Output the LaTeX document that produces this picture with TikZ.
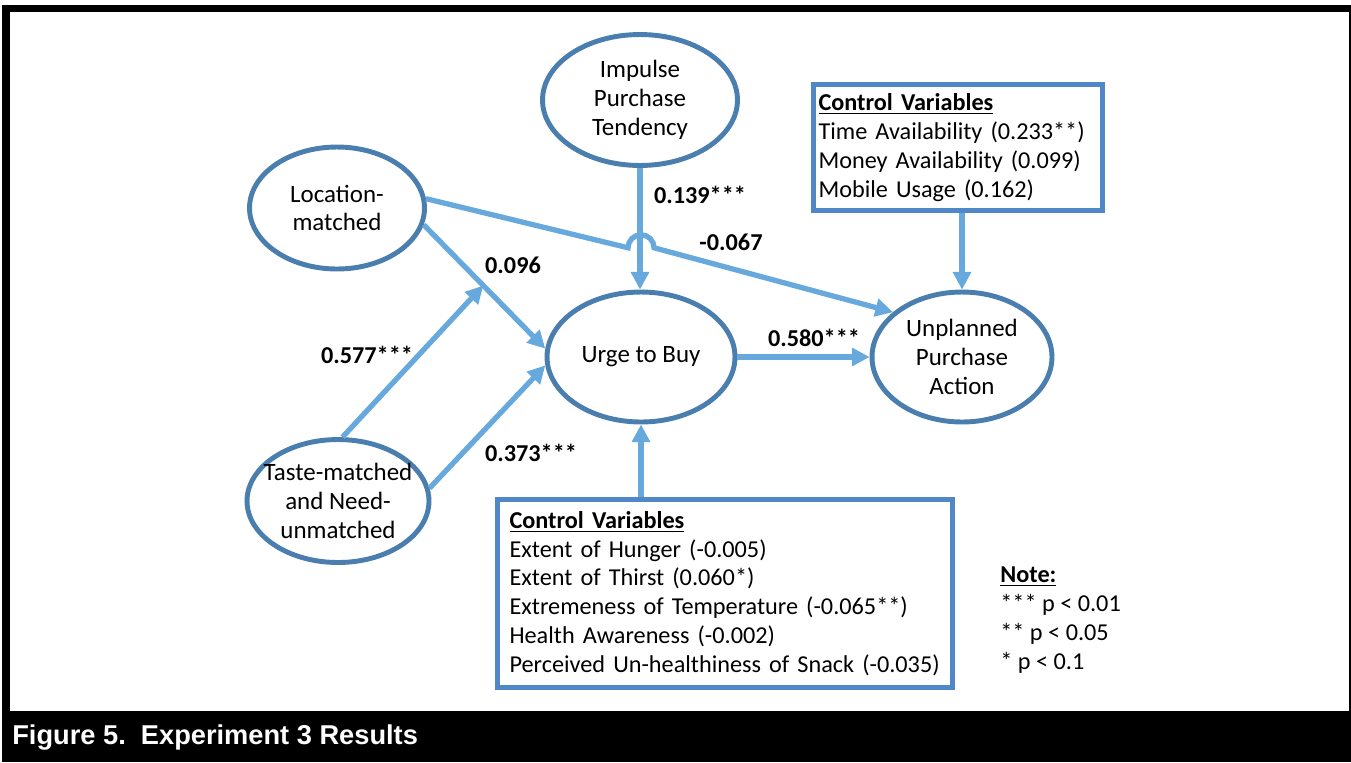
\documentclass[tikz,border=0pt]{standalone}
\usepackage{fontspec}
\setmainfont{Carlito}
\newfontfamily\capfont{Liberation Sans}
\usetikzlibrary{arrows.meta,shapes.geometric,calc}

\definecolor{ringblue}{RGB}{74,126,174}
\definecolor{arrowblue}{RGB}{103,168,221}
\definecolor{boxblue}{RGB}{79,135,199}

\tikzset{
  var/.style={draw=ringblue, line width=2.8pt, ellipse, inner sep=0pt},
  vtxt/.style={align=center, font=\fontsize{14.2}{16.4}\selectfont},
  ctrl/.style={draw=boxblue, line width=2.8pt, rectangle, align=left, inner xsep=6.8pt, font=\fontsize{13.8}{16.4}\selectfont},
  link/.style={draw=arrowblue, line width=3pt, -{Triangle[length=10pt,width=10pt]}},
  coef/.style={font=\fontsize{13.8}{16}\selectfont\bfseries},
}

\begin{document}
\begin{tikzpicture}[x=0.02cm,y=-0.02cm]
\useasboundingbox (0,0) rectangle (1351,762);

% frame and caption bar
\fill[white] (0,0) rectangle (1351,762);
\fill[black] (2,5) rectangle (1351,762);
\fill[white] (10,12) rectangle (1349,711);
\node[anchor=west, inner sep=0pt, text=white, font=\capfont\bfseries\fontsize{15.5}{18}\selectfont] (cap) at (12,737) {Figure 5.\ \ Experiment 3 Results};

% constructs
\node[var, minimum width=3.9cm, minimum height=2.62cm, label={[vtxt]center:Impulse\\Purchase\\Tendency}] (imp) at (640,100) {};
\node[var, minimum width=3.5cm, minimum height=2.44cm, label={[vtxt]center:Location-\\matched}] (loc) at (337,208) {};
\node[var, minimum width=3.64cm, minimum height=2.46cm, label={[vtxt]center:Taste-matched\\and Need-\\unmatched}] (taste) at (338,501) {};
\node[var, minimum width=3.76cm, minimum height=2.6cm, label={[vtxt]center:Urge to Buy}] (urge) at (641,357) {};
\node[var, minimum width=3.6cm, minimum height=2.6cm, label={[vtxt]center:Unplanned\\Purchase\\Action}] (unpl) at (962,357) {};

% control variable boxes
\node[ctrl, text width=5.58cm, inner xsep=3pt, minimum height=2.52cm] (ctrlA) at (958,147.5) {\textbf{\underline{Control Variables}}\\Time Availability (0.233**)\\Money Availability (0.099)\\Mobile Usage (0.162)};
\node[ctrl, text width=8.62cm, minimum height=3.76cm] (ctrlB) at (725,593.5) {\textbf{\underline{Control Variables}}\\Extent of Hunger (-0.005)\\Extent of Thirst (0.060*)\\Extremeness of Temperature (-0.065**)\\Health Awareness (-0.002)\\Perceived Un-healthiness of Snack (-0.035)};

% note
\node[anchor=west, align=left, inner sep=0pt, font=\fontsize{13.8}{16.4}\selectfont] (note) at (1000,620) {\textbf{\underline{Note:}}\\{}*** p < 0.01\\{}** p < 0.05\\{}* p < 0.1};

% paths
\draw[link] (imp.south) -- (imp.south |- urge.north);
\coordinate (hx) at (intersection of loc.6--unpl.147 and imp.south--urge.north);
\draw[link] (loc.6) -- ($(hx)!0.26cm!(loc.6)$) arc[start angle=180, end angle=360, radius=13] -- (unpl.147);
\draw[link] (loc.-11) -- (urge.175);
\coordinate (join) at ($(loc.-11)!0.49!(urge.175)$);
\draw[link] (taste.86) -- (join);
\draw[link] (taste.8) -- (urge.185);
\draw[link] (urge.east) -- (unpl.west);
\draw[link] (ctrlA.south -| unpl.north) -- (unpl.north);
\draw[link] (ctrlB.north -| urge.south) -- (urge.south);

% coefficients
\node[coef] (c139) at (700,195) {0.139***};
\node[coef] (c067) at (731,242) {-0.067};
\node[coef] (c096) at (513,265) {0.096};
\node[coef] (c577) at (367,355) {0.577***};
\node[coef] (c373) at (531,453) {0.373***};
\node[coef] (c580) at (814,338) {0.580***};

\end{tikzpicture}
\end{document}
